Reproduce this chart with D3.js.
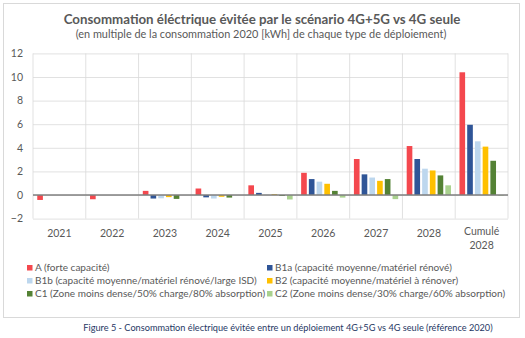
<!DOCTYPE html>
<html>
<head>
<meta charset="utf-8">
<script src="https://cdn.jsdelivr.net/npm/d3@7/dist/d3.min.js"></script>
<style>
  html, body { margin: 0; padding: 0; background: #fff; }
  svg { display: block; font-family: Lato, "Open Sans", sans-serif; }
</style>
</head>
<body>
<svg id="chart" width="525" height="338"></svg>
<script>
// Categories (the last one spans two lines)
const categories = ["2021", "2022", "2023", "2024", "2025", "2026", "2027", "2028", "Cumulé 2028"];

// Avoided consumption, per deployment type
const serieA   = [-0.42, -0.36, 0.35, 0.55, 0.82, 1.88, 3.05, 4.15, 10.4];
const serieB1a = [0, 0, -0.3, -0.2, 0.18, 1.35, 1.75, 3.05, 5.95];
const serieB1b = [0, 0, -0.28, -0.3, 0.02, 1.13, 1.48, 2.23, 4.55];
const serieB2  = [0, 0, -0.18, -0.15, 0.07, 0.95, 1.2, 2.08, 4.1];
const serieC1  = [0, 0, -0.33, -0.22, -0.08, 0.35, 1.35, 1.66, 2.9];
const serieC2  = [0, 0, 0, 0, -0.38, -0.22, -0.35, 0.82, -0.05];

const seriesNames = [
  "A (forte capacité)",
  "B1a (capacité moyenne/matériel rénové)",
  "B1b (capacité moyenne/matériel rénové/large ISD)",
  "B2 (capacité moyenne/matériel à rénover)",
  "C1 (Zone moins dense/50% charge/80% absorption)",
  "C2 (Zone moins dense/30% charge/60% absorption)"
];
const seriesValues = [serieA, serieB1a, serieB1b, serieB2, serieC1, serieC2];
const seriesColors = ["#F4484E", "#2F5597", "#BDD7EE", "#FFC000", "#548235", "#A9D18E"];

const yTicks = [-2, 0, 2, 4, 6, 8, 10, 12];

const svg = d3.select("#chart");
const textColor = "#595959";

// Fit a text element to a target width by adjusting its font size
function fitWidth(sel, target) {
  const node = sel.node();
  const fs = parseFloat(sel.attr("font-size"));
  const w = node.getComputedTextLength();
  if (w > 0) sel.attr("font-size", (fs * target / w).toFixed(2));
}

// Outer frame
svg.append("rect")
  .attr("x", 3.5).attr("y", 3.5).attr("width", 516).attr("height", 314)
  .attr("fill", "#fff").attr("stroke", "#D9D9D9").attr("stroke-width", 1);

// Titles
const title = svg.append("text")
  .attr("x", 262).attr("y", 24).attr("text-anchor", "middle")
  .attr("font-size", 13).attr("font-weight", "bold").attr("fill", textColor)
  .text("Consommation éléctrique évitée par le scénario 4G+5G vs 4G seule");
fitWidth(title, 397);

const subtitle = svg.append("text")
  .attr("x", 261).attr("y", 38).attr("text-anchor", "middle")
  .attr("font-size", 10).attr("fill", textColor)
  .text("(en multiple de la consommation 2020 [kWh] de chaque type de déploiement)");
fitWidth(subtitle, 371);

// Plot area
const plot = { left: 33, right: 508, top: 53.4, bottom: 218.6 };

const x = d3.scaleBand()
  .domain(categories)
  .range([plot.left, plot.right])
  .padding(0);

const xInner = d3.scaleBand()
  .domain(d3.range(seriesNames.length))
  .range([0, x.bandwidth()])
  .paddingInner(0.27)
  .paddingOuter(0.55);

const y = d3.scaleLinear()
  .domain([-2, 12])
  .range([plot.bottom, plot.top]);

// Horizontal gridlines and y labels
const yAxis = svg.append("g")
  .attr("transform", `translate(${plot.left},0)`)
  .call(d3.axisLeft(y).tickValues(yTicks).tickSize(-(plot.right - plot.left)).tickPadding(10));
yAxis.select(".domain").remove();
yAxis.selectAll(".tick line").attr("stroke", "#D9D9D9").attr("stroke-width", 0.8);
yAxis.selectAll(".tick text")
  .attr("fill", textColor).attr("font-size", 10.5)
  .attr("font-family", "Lato, 'Open Sans', sans-serif");

// Vertical separators between categories
const bounds = categories.map(c => x(c)).concat([plot.right]);
svg.append("g").selectAll("line").data(bounds).join("line")
  .attr("x1", d => d).attr("x2", d => d)
  .attr("y1", plot.top).attr("y2", plot.bottom)
  .attr("stroke", "#D9D9D9").attr("stroke-width", 0.8);

// Bars
const groups = svg.append("g").selectAll("g").data(categories).join("g")
  .attr("transform", c => `translate(${x(c)},0)`);

groups.selectAll("rect")
  .data((c, i) => seriesValues.map((vals, s) => ({ s, v: vals[i] })))
  .join("rect")
  .attr("x", d => xInner(d.s))
  .attr("width", xInner.bandwidth())
  .attr("y", d => y(Math.max(0, d.v)))
  .attr("height", d => Math.abs(y(d.v) - y(0)))
  .attr("fill", d => seriesColors[d.s]);

// Zero line
svg.append("line")
  .attr("x1", plot.left).attr("x2", plot.right)
  .attr("y1", y(0)).attr("y2", y(0))
  .attr("stroke", "#7F7F7F").attr("stroke-width", 1.3);

// Category labels
const xl = svg.append("g").selectAll("text").data(categories).join("text")
  .attr("x", c => x(c) + x.bandwidth() / 2)
  .attr("y", 237)
  .attr("text-anchor", "middle")
  .attr("font-size", 10.5).attr("fill", textColor);
xl.each(function (c) {
  const parts = c.split(" ");
  const t = d3.select(this);
  parts.forEach((p, k) => {
    t.append("tspan")
      .attr("x", x(c) + x.bandwidth() / 2)
      .attr("dy", k === 0 ? (parts.length > 1 ? -2 : 0) : 13.5)
      .text(p);
  });
});

// Legend, two columns
const legendCols = [27, 267];
const legendRows = [268, 281, 294];
const legend = svg.append("g").selectAll("g").data(seriesNames).join("g")
  .attr("transform", (d, i) => `translate(${legendCols[i % 2]},${legendRows[Math.floor(i / 2)]})`);
legend.append("rect")
  .attr("x", 0).attr("y", -3).attr("width", 5.5).attr("height", 5.5)
  .attr("fill", (d, i) => seriesColors[i]);
const legendText = legend.append("text")
  .attr("x", 8).attr("y", 3)
  .attr("font-size", 9).attr("fill", textColor)
  .text(d => d);
// Scale legend text so the widest entry of the first column spans its slot
const refNode = legendText.filter((d, i) => i === 2);
const refW = refNode.node().getComputedTextLength();
legendText.attr("font-size", (9 * 222 / refW).toFixed(2));

// Figure caption
const caption = svg.append("text")
  .attr("x", 288).attr("y", 331).attr("text-anchor", "middle")
  .attr("font-size", 10.5).attr("fill", "#1F3864")
  .text("Figure 5 - Consommation électrique évitée entre un déploiement 4G+5G vs 4G seule (référence 2020)");
fitWidth(caption, 410);
</script>
</body>
</html>
